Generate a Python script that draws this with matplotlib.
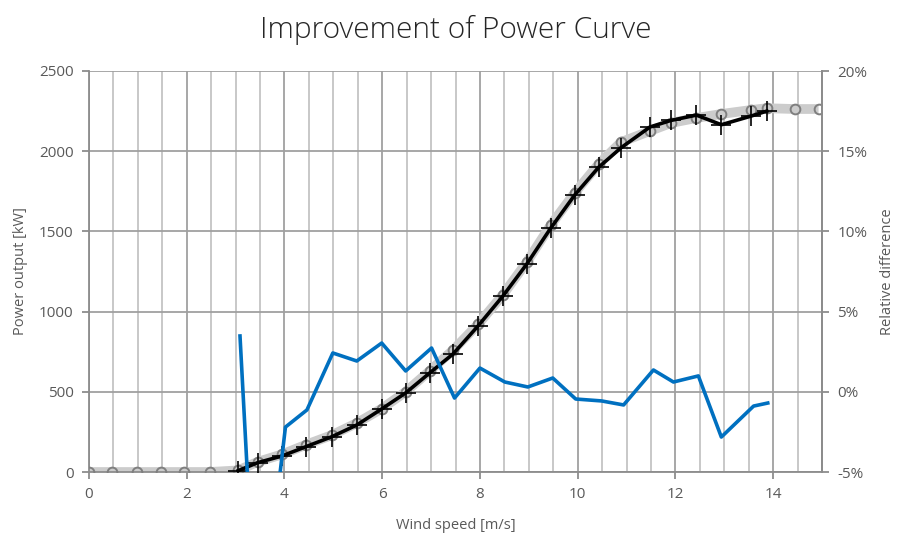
import matplotlib
matplotlib.use("Agg")
import matplotlib.pyplot as plt
from matplotlib.ticker import MultipleLocator, FuncFormatter

plt.rcParams['font.family'] = ['Open Sans', 'DejaVu Sans']

# Reference power curve (grey band with circles)
ref_speed = [0, 0.47, 0.98, 1.47, 1.95, 2.47, 3.05, 3.45, 3.95, 4.44, 4.97, 5.48, 5.99,
             6.48, 6.97, 7.45, 7.96, 8.47, 8.96, 9.45, 9.94, 10.43, 10.89, 11.48,
             11.91, 12.43, 12.94, 13.55, 13.87, 14.44, 14.93]
ref_power = [0, 0, 0, 0, 0, 0, 10, 63, 110, 170, 230, 305, 395,
             500, 630, 760, 920, 1105, 1309, 1540, 1740, 1920, 2057, 2126,
             2176, 2207, 2232, 2257, 2268, 2263, 2263]

# Improved power curve (black with crosses)
new_speed = [3.05, 3.45, 3.95, 4.44, 4.97, 5.48, 5.99, 6.48, 6.97, 7.45, 7.96, 8.47,
             8.96, 9.45, 9.94, 10.43, 10.89, 11.48, 11.91, 12.43, 12.94, 13.55, 13.87]
new_power = [8, 58, 100, 158, 220, 293, 393, 493, 617, 736, 910, 1097,
             1297, 1521, 1727, 1900, 2022, 2151, 2192, 2225, 2165, 2219, 2250]

# Relative difference in percent (right axis)
diff_speed = [3.09, 3.45, 4.02, 4.46, 4.99, 5.48, 5.99, 6.48, 7.01, 7.48, 8.0, 8.51,
              8.98, 9.49, 9.96, 10.49, 10.94, 11.55, 11.96, 12.47, 12.94, 13.6, 13.89]
rel_diff = [3.48, -17.0, -2.2, -1.13, 2.42, 1.92, 3.04, 1.30, 2.73, -0.39, 1.48, 0.61,
            0.30, 0.86, -0.45, -0.57, -0.82, 1.36, 0.61, 0.99, -2.82, -0.89, -0.70]

text_col = '#595959'
grid_major = '#a0a0a0'
grid_minor = '#c4c4c4'

fig = plt.figure(figsize=(8.97, 5.36), dpi=100)
ax = fig.add_axes([89 / 897, 64 / 536, 733 / 897, 401 / 536])

ax.set_xlim(0, 15)
ax.set_ylim(0, 2500)
ax.xaxis.set_major_locator(MultipleLocator(2))
ax.xaxis.set_minor_locator(MultipleLocator(0.5))
ax.yaxis.set_major_locator(MultipleLocator(500))
ax.grid(which='minor', axis='x', color=grid_minor, linewidth=1.3)
ax.grid(which='major', axis='x', color=grid_major, linewidth=1.3)
ax.grid(which='major', axis='y', color=grid_major, linewidth=1.3)
ax.set_axisbelow(True)

ax.plot(ref_speed, ref_power, color='#cccccc', linewidth=7, solid_capstyle='butt', zorder=2)
ax.plot(ref_speed, ref_power, linestyle='none', marker='o', markersize=7,
        markerfacecolor='none', markeredgecolor='#7f7f7f', markeredgewidth=1.4, zorder=3)
ax.plot(new_speed, new_power, color='black', linewidth=2.6, marker='+', markersize=14,
        markeredgewidth=1.2, zorder=4)

ax.spines['top'].set_visible(False)
for side in ['left', 'right', 'bottom']:
    ax.spines[side].set_color('#8c8c8c')
    ax.spines[side].set_linewidth(1.3)

ax.tick_params(which='major', direction='out', length=5, width=1.3, color='#8c8c8c',
               labelcolor=text_col, labelsize=11, pad=6)
ax.tick_params(which='minor', length=0)
ax.set_xlabel('Wind speed [m/s]', color=text_col, fontsize=10.5, labelpad=11)
ax.set_ylabel('Power output [kW]', color=text_col, fontsize=10.5, labelpad=8)

ax2 = ax.twinx()
ax2.set_ylim(-5, 20)
ax2.yaxis.set_major_locator(MultipleLocator(5))
ax2.yaxis.set_major_formatter(FuncFormatter(lambda v, p: f"{v:.0f}%"))
ax2.plot(diff_speed, rel_diff, color='#0070c0', linewidth=2.6, zorder=5)
for side in ['top', 'left', 'bottom']:
    ax2.spines[side].set_visible(False)
ax2.spines['right'].set_color('#8c8c8c')
ax2.spines['right'].set_linewidth(1.3)
ax2.tick_params(direction='out', length=5, width=1.3, color='#8c8c8c',
                labelcolor=text_col, labelsize=11, pad=6)
ax2.set_ylabel('Relative difference', color=text_col, fontsize=10.5, labelpad=9)

fig.suptitle('Improvement of Power Curve', x=(89 + 822) / 2 / 897, y=0.972,
             fontsize=21.5, color='#262626', fontweight='light')

fig.savefig('out.png', dpi=100)
